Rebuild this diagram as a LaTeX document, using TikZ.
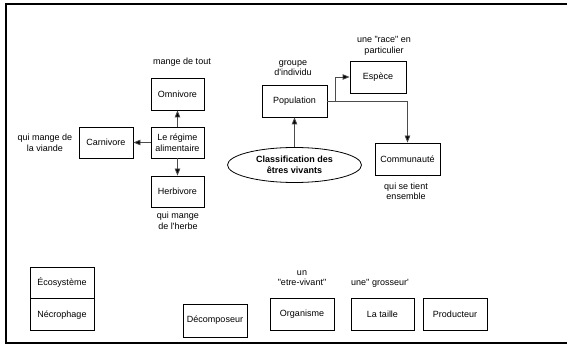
\documentclass[tikz,border=0pt]{standalone}
\usepackage{fontspec}
\setmainfont{Liberation Sans}
\usetikzlibrary{arrows.meta,shapes.geometric}
\newcommand{\dq}{\textquotedbl}
\newcommand{\sq}{\textquotesingle}
\tikzset{
  boxn/.style={draw=black, line width=0.8pt, rectangle, minimum height=32pt, inner sep=1pt, align=center, font=\fontsize{9}{10.5}\selectfont},
  lab/.style={align=center, inner sep=0pt, font=\fontsize{9}{10.5}\selectfont},
  conn/.style={draw=black!70, line width=0.8pt, -{Triangle[length=7pt,width=5.5pt,fill=black]}},
}
\begin{document}
\begin{tikzpicture}[x=1pt,y=-1pt]
\useasboundingbox (0,0) rectangle (567,347);
\fill[white] (0,0) rectangle (567,347);
\draw[line width=2pt] (590,4) -- (6,4) -- (6,343) -- (590,343);

% diet cluster
\node[boxn, minimum width=53pt] (omni) at (177.5,94) {Omnivore};
\node[boxn, minimum width=53pt, minimum height=31pt] (regime) at (177.5,142.5) {Le régime\\alimentaire};
\node[boxn, minimum width=54pt, minimum height=31pt] (carni) at (106,142.5) {Carnivore};
\node[boxn, minimum width=53pt, minimum height=31pt] (herbi) at (177.5,191.5) {Herbivore};
\node[lab] (lomni) at (182,62) {mange de tout};
\node[lab] (lcarni) at (45,143) {qui mange de\\la viande};
\node[lab] (lherbi) at (178,221) {qui mange\\de l\sq herbe};
\draw[conn] (regime.north) -- (omni.south);
\draw[conn] (regime.west) -- (carni.east);
\draw[conn] (regime.south) -- (herbi.north);

% classification cluster
\node[boxn, minimum width=65pt] (pop) at (294.5,101) {Population};
\node[boxn, minimum width=56pt] (espece) at (378,77) {Espèce};
\node[boxn, minimum width=65pt] (commu) at (407.5,159) {Communauté};
\node[draw=black, line width=0.8pt, ellipse, minimum width=134pt, minimum height=35pt, inner sep=0pt, align=center, font=\fontsize{9}{10.5}\selectfont\bfseries] (classif) at (294.5,165) {Classification des\\êtres vivants};
\node[lab] (lpop) at (293,68) {groupe\\d\sq individu};
\node[lab] (lespece) at (384,46) {une \dq race\dq\ en\\particulier};
\node[lab] (lcommu) at (406,191.5) {qui se tient\\ensemble};
\draw[conn] (classif.north) -- (pop.south);
\draw[conn] (pop.east) -- ++(8,0) |- (espece.west);
\draw[conn] (pop.east) -| (commu.north);

% bottom row
\node[boxn, minimum width=64pt, minimum height=31pt] (eco) at (62,282.5) {Écosystème};
\node[boxn, minimum width=64pt, minimum height=32pt, anchor=north] (necro) at (eco.south) {Nécrophage};
\node[boxn, minimum width=64pt, minimum height=33pt] (decomp) at (215,320.5) {Décomposeur};
\node[boxn, minimum width=64pt] (orga) at (302,314) {Organisme};
\node[boxn, minimum width=63pt] (taille) at (382.5,314) {La taille};
\node[boxn, minimum width=64pt] (prod) at (455,314) {Producteur};
\node[lab] (lorga) at (302,278) {un\\\dq etre-vivant\dq};
\node[lab] (ltaille) at (380,283) {une\sq\sq\ grosseur\sq};
\end{tikzpicture}
\end{document}
